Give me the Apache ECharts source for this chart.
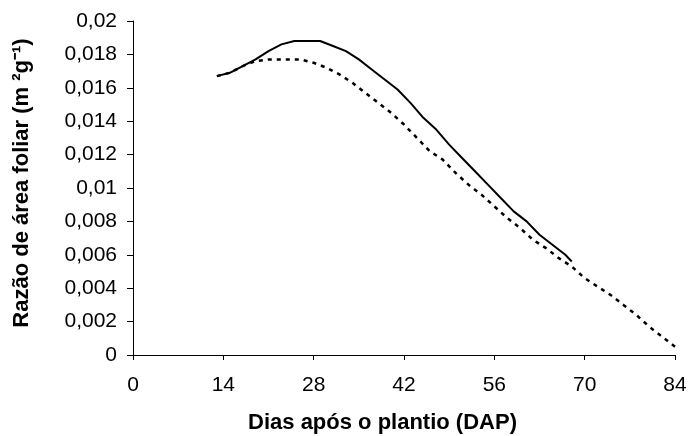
<!DOCTYPE html>
<html>
<head>
<meta charset="utf-8">
<script src="https://cdn.jsdelivr.net/npm/echarts@6/dist/echarts.min.js"></script>
<style>html,body{margin:0;padding:0;background:#fff}#c{width:689px;height:436px}</style>
</head>
<body>
<div id="c"></div>
<script>
const solidDays = [13,15,17,19,21,23,25,29,31,33,35,37,39,41,43,45,47,49,51,53,55,57,59,61,63,65,67,68];
const solidVals = [0.0167,0.0169,0.0173,0.0177,0.0182,0.0186,0.0188,0.0188,0.0185,0.0182,0.0177,0.0171,0.0165,0.0159,0.0151,0.0142,0.0135,0.0126,0.0118,0.0110,0.0102,0.0094,0.0086,0.0080,0.0072,0.0066,0.0060,0.0056];
const dashDays = [13,15,17,19,21,24,26,28,30,32,34,36,38,40,42,44,46,48,50,52,54,56,58,60,62,64,66,68,70,72,74,76,78,80,82,84];
const dashVals = [0.0167,0.0169,0.0173,0.0176,0.0177,0.0177,0.0177,0.0175,0.0172,0.0168,0.0163,0.0157,0.0151,0.0145,0.0138,0.0130,0.0122,0.0117,0.0109,0.0102,0.0096,0.0089,0.0082,0.0076,0.0069,0.0064,0.0058,0.0053,0.0046,0.0041,0.0036,0.0030,0.0024,0.0017,0.0011,0.0005];
const xTicks = [0,14,28,42,56,70,84];
const xTitle = 'Dias após o plantio (DAP)';
const yTitle = 'Razão de área foliar (m ²g⁻¹)';

const font = '"Liberation Sans", Arial, sans-serif';
const chart = echarts.init(document.getElementById('c'), null, {renderer: 'canvas'});
chart.setOption({
  animation: false,
  backgroundColor: '#fff',
  grid: {left: 133, right: 14, top: 21, bottom: 81, containLabel: false, outerBoundsMode: 'none'},
  xAxis: {
    type: 'value', min: xTicks[0], max: xTicks[xTicks.length - 1], interval: 14,
    name: xTitle, nameLocation: 'middle', nameGap: 57,
    nameTextStyle: {fontFamily: font, fontSize: 22, fontWeight: 'bold', color: '#000', padding: [0, 43, 0, 0]},
    axisLine: {lineStyle: {color: '#000', width: 1}},
    axisTick: {show: true, length: 5, lineStyle: {color: '#000'}},
    axisLabel: {fontFamily: font, fontSize: 21, color: '#000', margin: 20},
    splitLine: {show: false}
  },
  yAxis: {
    type: 'value', min: 0, max: 0.02, interval: 0.002,
    name: yTitle, nameLocation: 'middle', nameGap: 100, nameRotate: 90,
    nameTextStyle: {fontFamily: font, fontSize: 22, fontWeight: 'bold', color: '#000', padding: [0, 0, 0, 10]},
    axisLine: {show: true, lineStyle: {color: '#000', width: 1}},
    axisTick: {show: true, length: 6, lineStyle: {color: '#000'}},
    axisLabel: {fontFamily: font, fontSize: 21, color: '#000', margin: 16,
      formatter: v => String(+v.toFixed(4)).replace('.', ',')},
    splitLine: {show: false}
  },
  series: [
    {type: 'line', data: solidDays.map((d, i) => [d, solidVals[i]]), showSymbol: false,
     lineStyle: {color: '#000', width: 2, type: 'solid'}},
    {type: 'line', data: dashDays.map((d, i) => [d, dashVals[i]]), showSymbol: false,
     lineStyle: {color: '#000', width: 2.5, type: [4, 5]}}
  ]
});
</script>
</body>
</html>
